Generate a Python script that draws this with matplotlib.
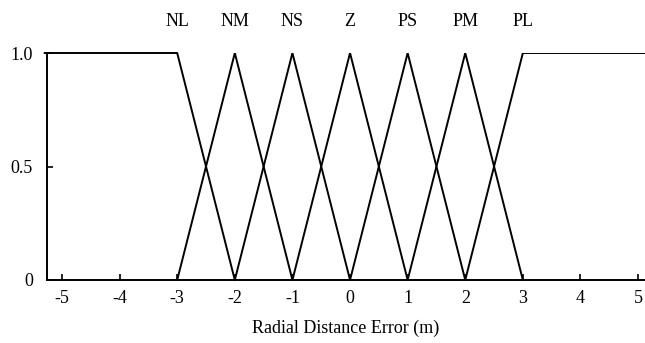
import matplotlib
matplotlib.use("Agg")
import matplotlib.pyplot as plt

plt.rcParams['font.family'] = ['Liberation Serif', 'DejaVu Serif']

labels = ["NL", "NM", "NS", "Z", "PS", "PM", "PL"]
centers = [-3, -2, -1, 0, 1, 2, 3]
# membership function breakpoints (x, y)
nl_x = [-5.3, -3, -2]
nl_y = [1, 1, 0]
tri_x = [[-3, -2, -1], [-2, -1, 0], [-1, 0, 1], [0, 1, 2], [1, 2, 3]]
tri_y = [0, 1, 0]
pl_x = [2, 3, 5.3]
pl_y = [0, 1, 1]
xticks = [-5, -4, -3, -2, -1, 0, 1, 2, 3, 4, 5]
yticks = [0, 0.5, 1.0]
yticklabels = ["0", "0.5", "1.0"]

fs = 13
fig = plt.figure(figsize=(6.45, 3.43), dpi=100)
ax = fig.add_axes([47/645, 1-280/343, 1-47/645, (280-53)/343])
lw = 1.4
ax.plot(nl_x, nl_y, color='black', lw=lw, clip_on=False)
for tx in tri_x:
    ax.plot(tx, tri_y, color='black', lw=lw)
ax.plot(pl_x, pl_y, color='black', lw=lw)

ax.set_xlim(-5.26, 5.12)
ax.set_ylim(0, 1)
ax.spines['top'].set_visible(False)
ax.spines['right'].set_visible(False)
for s in ['left', 'bottom']:
    ax.spines[s].set_linewidth(lw)
ax.set_xticks(xticks)
ax.set_xticklabels([str(t) for t in xticks])
ax.set_yticks(yticks)
ax.set_yticklabels(yticklabels)
ax.tick_params(direction='in', length=4, width=1.2, labelsize=fs, pad=7)
ax.tick_params(axis='y', pad=10)
ax.set_xlabel("Radial Distance Error (m)", fontsize=fs, labelpad=9)

for lab, c in zip(labels, centers):
    ax.text(c, 1.10, lab, ha='center', va='bottom', fontsize=fs,
            transform=ax.transData, clip_on=False)

fig.savefig("out.png", dpi=100)
